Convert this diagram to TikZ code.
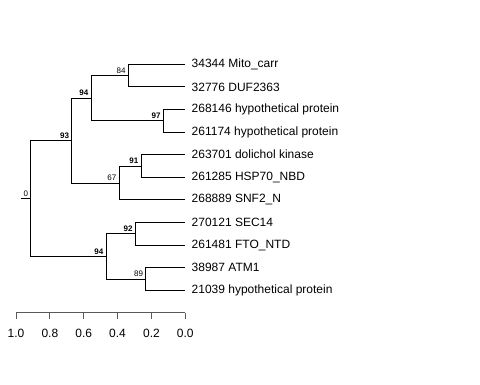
\documentclass[tikz,border=0pt]{standalone}
\usepackage{fontspec}
\setmainfont{Liberation Sans}
\begin{document}
\begin{tikzpicture}[x=1pt,y=-1pt,
  branch/.style={draw=black,line width=0.9pt},
  leaflabel/.style={anchor=west,inner sep=0pt,font=\fontsize{12}{14}\selectfont},
  supp/.style={anchor=south east,inner sep=0pt,font=\fontsize{8}{9}\selectfont},
  suppb/.style={supp,font=\fontsize{8}{9}\selectfont\bfseries},
  axisline/.style={draw=black!65,line width=0.9pt},
  ticklabel/.style={inner sep=0pt,font=\fontsize{12}{14}\selectfont}]
\useasboundingbox (0,0) rectangle (480,384);
% leaf tips
\coordinate (t0) at (185,64.3);
\coordinate (t1) at (185,86.9);
\coordinate (t2) at (185,109.5);
\coordinate (t3) at (185,132.1);
\coordinate (t4) at (185,154.7);
\coordinate (t5) at (185,177.3);
\coordinate (t6) at (185,199.9);
\coordinate (t7) at (185,222.5);
\coordinate (t8) at (185,245.1);
\coordinate (t9) at (185,267.7);
\coordinate (t10) at (185,290.3);
% internal nodes
\coordinate (n84) at (128.3,75.6);
\coordinate (n97) at (163.3,120.8);
\coordinate (n94a) at (91,98.2);
\coordinate (n91) at (141,166);
\coordinate (n67) at (119,182.95);
\coordinate (n93) at (71.7,140.6);
\coordinate (n92) at (135.3,233.8);
\coordinate (n89) at (145.7,279);
\coordinate (n94b) at (106,256.4);
\coordinate (root) at (30.3,198.5);
\coordinate (stub) at (20.7,198.5);
% branches
\draw[branch] (stub) -- (root);
\draw[branch] (root) |- (n93);
\draw[branch] (root) |- (n94b);
\draw[branch] (n93) |- (n94a);
\draw[branch] (n93) |- (n67);
\draw[branch] (n94a) |- (n84);
\draw[branch] (n94a) |- (n97);
\draw[branch] (n84) |- (t0);
\draw[branch] (n84) |- (t1);
\draw[branch] (n97) |- (t2);
\draw[branch] (n97) |- (t3);
\draw[branch] (n67) |- (n91);
\draw[branch] (n67) |- (t6);
\draw[branch] (n91) |- (t4);
\draw[branch] (n91) |- (t5);
\draw[branch] (n94b) |- (n92);
\draw[branch] (n94b) |- (n89);
\draw[branch] (n92) |- (t7);
\draw[branch] (n92) |- (t8);
\draw[branch] (n89) |- (t9);
\draw[branch] (n89) |- (t10);
% support labels
\node[supp] (l84) at ([xshift=-2.5pt,yshift=2pt]n84) {84};
\node[suppb] (l97) at ([xshift=-2.5pt,yshift=2pt]n97) {97};
\node[suppb] (l94a) at ([xshift=-2.5pt,yshift=2pt]n94a) {94};
\node[suppb] (l91) at ([xshift=-2.5pt,yshift=2pt]n91) {91};
\node[supp] (l67) at ([xshift=-2.5pt,yshift=2pt]n67) {67};
\node[suppb] (l93) at ([xshift=-2.5pt,yshift=2pt]n93) {93};
\node[suppb] (l92) at ([xshift=-2.5pt,yshift=2pt]n92) {92};
\node[supp] (l89) at ([xshift=-2.5pt,yshift=2pt]n89) {89};
\node[suppb] (l94b) at ([xshift=-2.5pt,yshift=2pt]n94b) {94};
\node[supp] (l0) at ([xshift=-2pt,yshift=2pt]root) {0};
% leaf labels
\node[leaflabel] (a0) at ([xshift=6.5pt]t0) {34344 Mito\_carr};
\node[leaflabel] (a1) at ([xshift=6.5pt]t1) {32776 DUF2363};
\node[leaflabel] (a2) at ([xshift=6.5pt]t2) {268146 hypothetical protein};
\node[leaflabel] (a3) at ([xshift=6.5pt]t3) {261174 hypothetical protein};
\node[leaflabel] (a4) at ([xshift=6.5pt]t4) {263701 dolichol kinase};
\node[leaflabel] (a5) at ([xshift=6.5pt]t5) {261285 HSP70\_NBD};
\node[leaflabel] (a6) at ([xshift=6.5pt]t6) {268889 SNF2\_N};
\node[leaflabel] (a7) at ([xshift=6.5pt]t7) {270121 SEC14};
\node[leaflabel] (a8) at ([xshift=6.5pt]t8) {261481 FTO\_NTD};
\node[leaflabel] (a9) at ([xshift=6.5pt]t9) {38987 ATM1};
\node[leaflabel] (a10) at ([xshift=6.5pt]t10) {21039 hypothetical protein};
% axis
\coordinate (ax0) at (16,312.7);
\coordinate (ax1) at (185.3,312.7);
\draw[axisline] (ax0) -- (ax1);
\foreach \i/\lab in {0/1.0,1/0.8,2/0.6,3/0.4,4/0.2,5/0.0}{
  \coordinate (tk\i) at ({16+\i*33.86},312.7);
  \draw[axisline] (tk\i) -- ++(0,6.5);
  \node[ticklabel] (tl\i) at ({16+\i*33.86},333.5) {\lab};
}
\end{tikzpicture}
\end{document}
